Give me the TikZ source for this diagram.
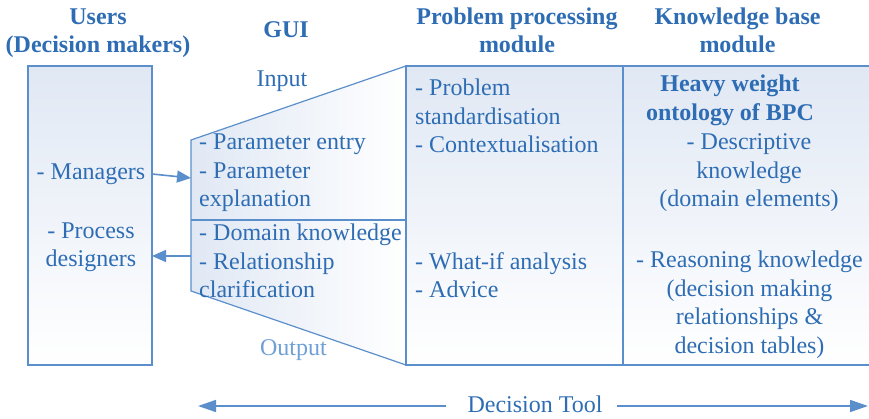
\documentclass[tikz,border=0pt]{standalone}
\usepackage{fontspec}
\setmainfont{Liberation Serif}
\usetikzlibrary{arrows.meta}
\definecolor{txt}{HTML}{2E6DB4}
\definecolor{ln}{HTML}{5B8FCB}
\definecolor{outc}{HTML}{6EA0D6}
\definecolor{fillb}{HTML}{E0E8F4}
\begin{document}
\begin{tikzpicture}[x=1pt,y=-1pt,
  every node/.style={font=\fontsize{24}{28.5}\selectfont, text=txt, inner sep=0pt},
  head/.style={font=\bfseries\fontsize{24}{28.5}\selectfont, align=center},
  box/.style={draw=ln, line width=1.2pt, top color=fillb, bottom color=white, minimum height=299pt},
  arr/.style={draw=ln, line width=1.6pt, -{Triangle[length=14pt,width=12pt]}},
  arrl/.style={draw=ln, line width=1.6pt, -{Triangle[length=18pt,width=12pt]}}]
\useasboundingbox (0,0) rectangle (869,419);
% GUI trapezoid
\coordinate (g1) at (191,140);
\coordinate (g2) at (406,66);
\coordinate (g3) at (406,365);
\coordinate (g4) at (191,291);
\path[draw=ln, line width=1.2pt, left color=fillb, right color=white] (g1) -- (g2) -- (g3) -- (g4) -- cycle;
\coordinate (d1) at (191,220);
\coordinate (d2) at (406,220);
\draw[ln, line width=1.2pt] (d1) -- (d2);
% boxes
\node[box, minimum width=124pt] (users) at (90,215.5) {};
\node[box, minimum width=217pt] (ppm) at (514.5,215.5) {};
\node[box, minimum width=247pt] (kbm) at (746.5,215.5) {};
% headings (base anchor = last line)
\node[head, anchor=base] (husers) at (98,53) {Users\\(Decision makers)};
\node[head, anchor=base] (hgui) at (286,38) {GUI};
\node[head, anchor=base] (hppm) at (517,53) {Problem processing\\module};
\node[head, anchor=base] (hkbm) at (737.5,53) {Knowledge base\\module};
% texts
\node[anchor=base] (input) at (282,87) {Input};
\node[anchor=base, text=outc] (output) at (293.5,355) {Output};
\node[anchor=base] (managers) at (91,180) {- Managers};
\node[anchor=base, align=center] (designers) at (91,267) {- Process\\designers};
\node[anchor=base west, align=left] (gin) at (199,207) {- Parameter entry\\- Parameter\\explanation};
\node[anchor=base west, align=left] (gout) at (199,298) {- Domain knowledge\\- Relationship\\clarification};
\node[anchor=base west, align=left] (pp1) at (415,153) {- Problem\\standardisation\\- Contextualisation};
\node[anchor=base west, align=left] (pp2) at (415,298) {- What-if analysis\\- Advice};
\node[head, anchor=base] (onto) at (730,120.5) {Heavy weight\\ontology of BPC};
\node[anchor=base, align=center] (desc) at (749,207) {- Descriptive\\knowledge\\(domain elements)};
\node[anchor=base, align=center] (reas) at (749.5,353) {- Reasoning knowledge\\(decision making\\relationships \&\\decision tables)};
\node[anchor=base] (dt) at (535,412) {Decision Tool};
% arrows
\coordinate (mstart) at (152,174);
\coordinate (mend) at (191,178);
\draw[arr] (mstart) -- (mend);
\coordinate (pstart) at (191,256);
\coordinate (pend) at (152,256);
\draw[arr] (pstart) -- (pend);
\coordinate (dtla) at (446,406);
\coordinate (dtl) at (198,406);
\coordinate (dtra) at (617,406);
\coordinate (dtr) at (868,406);
\draw[arrl] (dtla) -- (dtl);
\draw[arrl] (dtra) -- (dtr);
\end{tikzpicture}
\end{document}
